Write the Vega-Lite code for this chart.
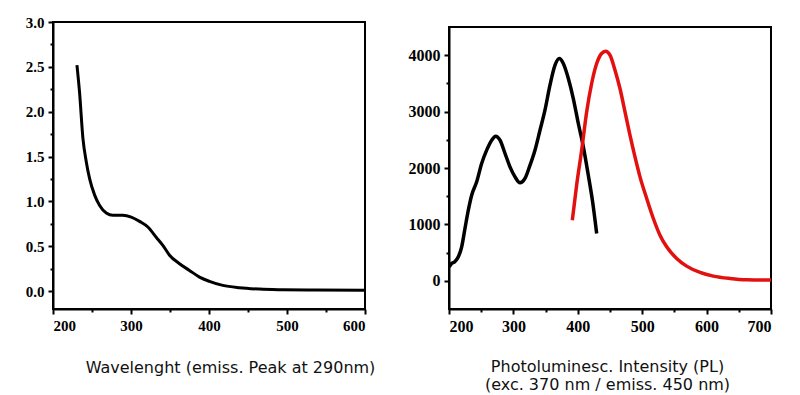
{
  "$schema": "https://vega.github.io/schema/vega-lite/v6.json",
  "background": "white",
  "padding": {"left": 24, "top": 14, "right": 0, "bottom": 0},
  "spacing": 31,
  "config": {
    "view": {"stroke": "black", "strokeWidth": 2},
    "axis": {
      "domainColor": "black", "domainWidth": 2,
      "tickColor": "black", "tickWidth": 2,
      "labelFont": "Liberation Serif", "labelFontWeight": "bold", "labelColor": "black",
      "grid": false, "labelOverlap": false,
      "titleFont": "DejaVu Sans", "titleFontWeight": "normal", "titleFontSize": 16, "titleColor": "#111111"
    }
  },
  "hconcat": [
    {
      "width": 312,
      "height": 287,
      "data": {"values": [
        {"wl": 230.7, "a": 2.52}, {"wl": 234, "a": 2.22}, {"wl": 238.4, "a": 1.70}, {"wl": 242.7, "a": 1.44},
        {"wl": 247, "a": 1.25}, {"wl": 253.4, "a": 1.07}, {"wl": 259.8, "a": 0.955}, {"wl": 268.3, "a": 0.87},
        {"wl": 276.8, "a": 0.845}, {"wl": 289.6, "a": 0.845}, {"wl": 300.3, "a": 0.825}, {"wl": 311, "a": 0.777},
        {"wl": 321.6, "a": 0.714}, {"wl": 332.3, "a": 0.60}, {"wl": 340.8, "a": 0.51}, {"wl": 349.4, "a": 0.40},
        {"wl": 362.2, "a": 0.305}, {"wl": 375, "a": 0.23}, {"wl": 387.8, "a": 0.156}, {"wl": 400.6, "a": 0.108},
        {"wl": 417.7, "a": 0.063}, {"wl": 439, "a": 0.037}, {"wl": 464.6, "a": 0.022}, {"wl": 494.5, "a": 0.015},
        {"wl": 537, "a": 0.011}, {"wl": 600, "a": 0.008}
      ]},
      "mark": {"type": "line", "color": "black", "strokeWidth": 3, "interpolate": "monotone"},
      "encoding": {
        "x": {
          "field": "wl", "type": "quantitative",
          "scale": {"domain": [200, 600], "nice": false, "zero": false},
          "axis": {
            "values": [200, 250, 300, 350, 400, 450, 500, 550, 600],
            "labelExpr": "datum.value % 100 === 0 ? datum.label : ''",
            "tickSize": {"condition": {"test": "datum.value % 100 === 0", "value": 5}, "value": 3},
            "labelFontSize": 15, "labelPadding": 4,
            "title": "Wavelenght (emiss. Peak at 290nm)",
            "titleX": 177, "titleY": 63, "titleAlign": "center", "titleBaseline": "alphabetic"
          }
        },
        "y": {
          "field": "a", "type": "quantitative",
          "scale": {"domain": [-0.2, 3.0], "nice": false, "zero": false},
          "axis": {
            "values": [0, 0.25, 0.5, 0.75, 1, 1.25, 1.5, 1.75, 2, 2.25, 2.5, 2.75, 3],
            "labelExpr": "datum.value * 2 % 1 === 0 ? format(datum.value, '.1f') : ''",
            "tickSize": {"condition": {"test": "datum.value * 2 % 1 === 0", "value": 5}, "value": 3},
            "labelFontSize": 15, "labelPadding": 4,
            "title": null
          }
        }
      }
    },
    {
      "spacing": 0,
      "vconcat": [
        {
          "width": 322,
          "height": 4,
          "data": {"values": []},
          "mark": "point",
          "encoding": {},
          "view": {"stroke": null}
        },
        {
          "width": 322,
          "height": 282,
          "data": {"values": [
            {"wl": 200.5, "pl": 248, "s": "exc"}, {"wl": 204, "pl": 307, "s": "exc"}, {"wl": 209, "pl": 337, "s": "exc"},
            {"wl": 214.5, "pl": 425, "s": "exc"}, {"wl": 219.7, "pl": 603, "s": "exc"}, {"wl": 224.8, "pl": 928, "s": "exc"},
            {"wl": 230, "pl": 1253, "s": "exc"}, {"wl": 235.2, "pl": 1518, "s": "exc"}, {"wl": 243, "pl": 1755, "s": "exc"},
            {"wl": 250.7, "pl": 2080, "s": "exc"}, {"wl": 258.5, "pl": 2316, "s": "exc"}, {"wl": 266.3, "pl": 2493, "s": "exc"},
            {"wl": 272.5, "pl": 2564, "s": "exc"}, {"wl": 279.2, "pl": 2493, "s": "exc"}, {"wl": 287, "pl": 2257, "s": "exc"},
            {"wl": 294.7, "pl": 2021, "s": "exc"}, {"wl": 302.5, "pl": 1843, "s": "exc"}, {"wl": 310.2, "pl": 1737, "s": "exc"},
            {"wl": 318, "pl": 1814, "s": "exc"}, {"wl": 325.8, "pl": 2050, "s": "exc"}, {"wl": 333.5, "pl": 2316, "s": "exc"},
            {"wl": 341.3, "pl": 2670, "s": "exc"}, {"wl": 349, "pl": 3025, "s": "exc"}, {"wl": 356.8, "pl": 3468, "s": "exc"},
            {"wl": 364.6, "pl": 3823, "s": "exc"}, {"wl": 371.3, "pl": 3941, "s": "exc"}, {"wl": 377.5, "pl": 3852, "s": "exc"},
            {"wl": 385.3, "pl": 3586, "s": "exc"}, {"wl": 393, "pl": 3232, "s": "exc"}, {"wl": 400.8, "pl": 2789, "s": "exc"},
            {"wl": 408.6, "pl": 2375, "s": "exc"}, {"wl": 416.3, "pl": 1873, "s": "exc"}, {"wl": 423, "pl": 1400, "s": "exc"},
            {"wl": 429.3, "pl": 839, "s": "exc"},
            {"wl": 391.5, "pl": 1075, "s": "emi"}, {"wl": 398.2, "pl": 1696, "s": "emi"}, {"wl": 406, "pl": 2316, "s": "emi"},
            {"wl": 413.8, "pl": 2996, "s": "emi"}, {"wl": 421.5, "pl": 3498, "s": "emi"}, {"wl": 429.3, "pl": 3852, "s": "emi"},
            {"wl": 437, "pl": 4030, "s": "emi"}, {"wl": 443.3, "pl": 4071, "s": "emi"}, {"wl": 450, "pl": 4000, "s": "emi"},
            {"wl": 457.8, "pl": 3734, "s": "emi"}, {"wl": 465.5, "pl": 3409, "s": "emi"}, {"wl": 473.3, "pl": 2996, "s": "emi"},
            {"wl": 481, "pl": 2582, "s": "emi"}, {"wl": 488.8, "pl": 2198, "s": "emi"}, {"wl": 496.6, "pl": 1843, "s": "emi"},
            {"wl": 507, "pl": 1459, "s": "emi"}, {"wl": 517.3, "pl": 1105, "s": "emi"}, {"wl": 527.6, "pl": 809, "s": "emi"},
            {"wl": 538, "pl": 603, "s": "emi"}, {"wl": 553.5, "pl": 396, "s": "emi"}, {"wl": 569, "pl": 260, "s": "emi"},
            {"wl": 589.8, "pl": 148, "s": "emi"}, {"wl": 610.5, "pl": 83, "s": "emi"}, {"wl": 636.3, "pl": 41, "s": "emi"},
            {"wl": 662.2, "pl": 18, "s": "emi"}, {"wl": 700, "pl": 12, "s": "emi"}
          ]},
          "mark": {"type": "line", "strokeWidth": 3.5, "interpolate": "monotone"},
          "encoding": {
            "x": {
              "field": "wl", "type": "quantitative",
              "scale": {"domain": [200, 700], "nice": false, "zero": false},
              "axis": {
                "values": [200, 250, 300, 350, 400, 450, 500, 550, 600, 650, 700],
                "labelExpr": "datum.value % 100 === 0 ? datum.label : ''",
                "tickSize": {"condition": {"test": "datum.value % 100 === 0", "value": 5}, "value": 3},
                "labelFontSize": 16, "labelPadding": 4,
                "title": ["Photoluminesc. Intensity (PL)", "(exc. 370 nm / emiss. 450 nm)"],
                "titleLineHeight": 18,
                "titleX": 158, "titleY": 62, "titleAlign": "center", "titleBaseline": "alphabetic"
              }
            },
            "y": {
              "field": "pl", "type": "quantitative",
              "scale": {"domain": [-500, 4500], "nice": false, "zero": false},
              "axis": {
                "values": [0, 500, 1000, 1500, 2000, 2500, 3000, 3500, 4000],
                "labelExpr": "datum.value % 1000 === 0 ? datum.value + '' : ''",
                "tickSize": {"condition": {"test": "datum.value % 1000 === 0", "value": 5}, "value": 3},
                "labelFontSize": 16, "labelPadding": 4,
                "title": null
              }
            },
            "color": {
              "field": "s", "type": "nominal",
              "scale": {"domain": ["exc", "emi"], "range": ["black", "#e31010"]},
              "legend": null
            },
            "detail": {"field": "s"}
          }
        }
      ]
    }
  ]
}
